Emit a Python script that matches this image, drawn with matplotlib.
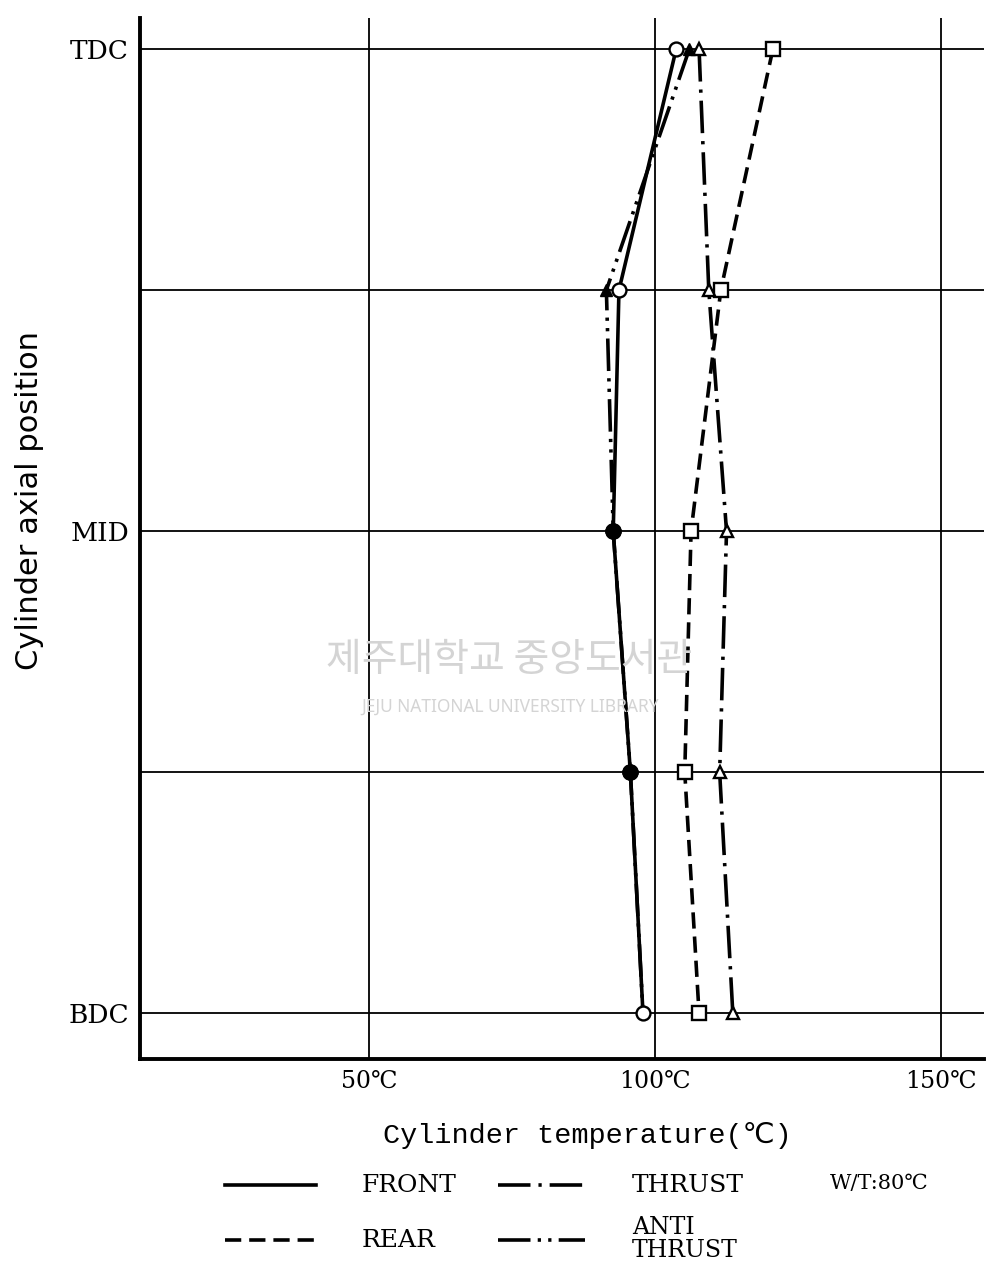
import matplotlib.pyplot as plt
from matplotlib.lines import Line2D

# axial positions (0 = BDC, 4 = TDC)
pos = [4, 3, 2, 1, 0]
pos_labels = ['BDC', '', 'MID', '', 'TDC']
temp_ticks = [50, 100, 150]
temp_labels = ['50℃', '100℃', '150℃']

front = [103.7, 93.7, 92.7, 95.7, 97.9]
rear = [120.6, 111.5, 106.3, 105.2, 107.7]
thrust = [107.7, 109.4, 112.5, 111.3, 113.6]
anti = [106.0, 91.5, 92.7, 95.7, 97.9]

lw = 2.6
d_rear = (4.5, 2.2)
d_thrust = (9, 2.2, 0.9, 2.2)
d_anti = (9, 2, 0.9, 2, 0.9, 2)

serif = ['DejaVu Serif', 'DejaVu Sans']

fig = plt.figure(figsize=(9.86, 12.67), dpi=100)
ax = fig.add_axes([0.142, 0.164, 0.856, 0.822])

ax.plot(front, pos, color='black', lw=lw, zorder=3)
ax.plot(rear, pos, color='black', lw=lw, dashes=d_rear, zorder=3)
ax.plot(thrust, pos, color='black', lw=lw, dashes=d_thrust, zorder=3)
ax.plot(anti, pos, color='black', lw=lw, dashes=d_anti, zorder=3)

ax.plot(front, pos, ls='none', marker='o', ms=10, mfc='white', mec='black', mew=1.7, zorder=4)
ax.plot(rear, pos, ls='none', marker='s', ms=10.5, mfc='white', mec='black', mew=1.7, zorder=4)
ax.plot(thrust, pos, ls='none', marker='^', ms=9, mfc='white', mec='black', mew=1.7, zorder=4)
ax.plot(anti[:2], pos[:2], ls='none', marker='^', ms=9, mfc='black', mec='black', zorder=5)
ax.plot(anti[2:4], pos[2:4], ls='none', marker='o', ms=11, mfc='black', mec='black', zorder=5)

ax.set_xlim(10, 157.5)
ax.set_ylim(-0.19, 4.13)
ax.set_yticks([0, 1, 2, 3, 4])
ax.set_yticklabels(pos_labels, fontsize=19, family=serif)
ax.set_xticks(temp_ticks)
ax.set_xticklabels(temp_labels, fontsize=17, family=serif)
ax.tick_params(length=0, pad=8)
ax.grid(True, color='black', lw=1.3)
for s in ['top', 'right']:
    ax.spines[s].set_visible(False)
for s in ['left', 'bottom']:
    ax.spines[s].set_linewidth(2.8)

fig.text(0.596, 0.104, 'Cylinder temperature(℃)', fontsize=20.5,
         family=['Liberation Mono', 'DejaVu Sans Mono', 'DejaVu Sans'], ha='center', va='center')
fig.text(0.030, 0.605, 'Cylinder axial position', fontsize=22, rotation=90,
         family=['DejaVu Sans'], ha='center', va='center')

# watermark
fig.text(0.516, 0.479, '제주대학교 중앙도서관', fontsize=28, color='#d4d4d4',
         family=['Noto Sans CJK KR'], ha='center', va='center', zorder=0)
fig.text(0.517, 0.442, 'JEJU NATIONAL UNIVERSITY LIBRARY', fontsize=12.5, color='#d4d4d4',
         family=['Noto Sans'], ha='center', va='center', zorder=0)

# legend
y1, y2 = 0.0647, 0.0213
fig.add_artist(Line2D([0.228, 0.320], [y1, y1], color='black', lw=lw))
fig.add_artist(Line2D([0.228, 0.320], [y2, y2], color='black', lw=lw, dashes=d_rear))
fig.add_artist(Line2D([0.505, 0.593], [y1, y1], color='black', lw=lw, dashes=d_thrust))
fig.add_artist(Line2D([0.505, 0.593], [y2, y2], color='black', lw=lw, dashes=d_anti))
fig.text(0.367, y1, 'FRONT', fontsize=18, family=serif, va='center')
fig.text(0.367, y2, 'REAR', fontsize=18, family=serif, va='center')
fig.text(0.641, y1, 'THRUST', fontsize=18, family=serif, va='center')
fig.text(0.641, y2 + 0.001, 'ANTI\nTHRUST', fontsize=17, family=serif, va='center', linespacing=1.0)
fig.text(0.842, y1 + 0.001, 'W/T:80℃', fontsize=15, family=serif, va='center')

fig.savefig('out.png', dpi=100)
